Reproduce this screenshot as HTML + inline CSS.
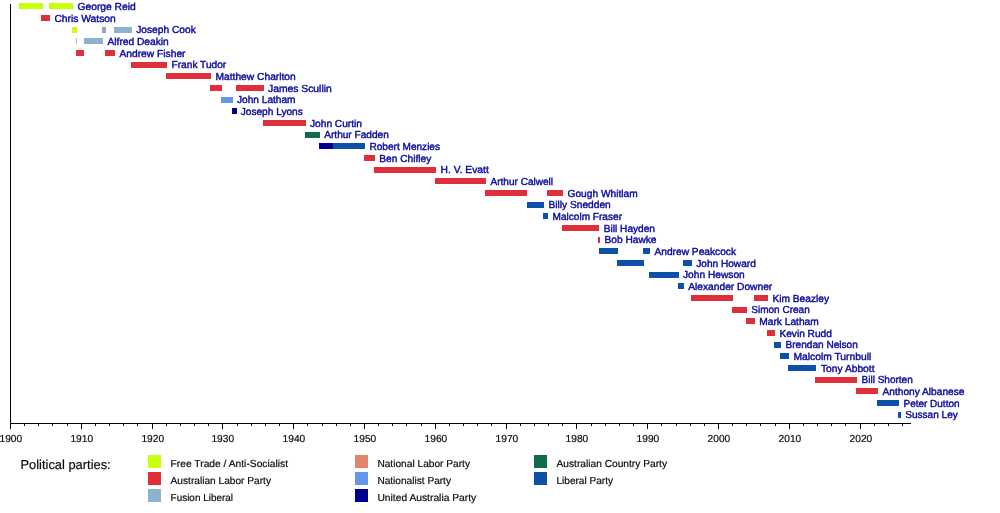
<!DOCTYPE html>
<html><head><meta charset="utf-8"><title>Leaders of the Opposition timeline</title>
<style>
html,body{margin:0;padding:0;background:#fff;}
body{width:1000px;height:513px;overflow:hidden;}
svg{display:block;text-rendering:geometricPrecision;font-family:"Liberation Sans",sans-serif;}
.nm{fill:#0c0c9c;font-size:10.2px;stroke:#0c0c9c;stroke-width:0.42px;}
.ax{fill:#0c0c0c;font-size:10.2px;stroke:#0c0c0c;stroke-width:0.2px;}
.lg{fill:#0c0c0c;font-size:10.2px;stroke:#0c0c0c;stroke-width:0.2px;}
.lt{fill:#0c0c0c;font-size:13px;stroke:#0c0c0c;stroke-width:0.2px;}
</style></head><body>
<svg width="1000" height="513" viewBox="0 0 1000 513">
<rect width="1000" height="513" fill="#ffffff"/>

<g shape-rendering="crispEdges">
<rect x="19" y="3" width="24" height="6" fill="#c8ff0a"/>
<rect x="49" y="3" width="23.75" height="6" fill="#c8ff0a"/>
<rect x="41" y="15" width="9" height="6" fill="#de2f3a"/>
<rect x="72" y="27" width="5" height="6" fill="#c8ff0a"/>
<rect x="102" y="27" width="4" height="6" fill="#93a8bd"/>
<rect x="114" y="27" width="17.75" height="6" fill="#8cb2cc"/>
<rect x="76" y="38" width="1" height="6" fill="#b4bfcc"/>
<rect x="84" y="38" width="19" height="6" fill="#8cb2cc"/>
<rect x="76" y="50" width="8" height="6" fill="#de2f3a"/>
<rect x="105" y="50" width="10" height="6" fill="#de2f3a"/>
<rect x="130.75" y="62" width="36.25" height="6" fill="#de2f3a"/>
<rect x="166" y="73" width="44.75" height="6" fill="#de2f3a"/>
<rect x="210" y="85" width="12" height="6" fill="#de2f3a"/>
<rect x="236" y="85" width="27.75" height="6" fill="#de2f3a"/>
<rect x="221" y="97" width="11.75" height="6" fill="#6695ec"/>
<rect x="232" y="108" width="4.75" height="6" fill="#00008c"/>
<rect x="263" y="120" width="42.75" height="6" fill="#de2f3a"/>
<rect x="305" y="132" width="14.75" height="6" fill="#0e6b50"/>
<rect x="319" y="143" width="13.75" height="6" fill="#00008c"/>
<rect x="332.75" y="143" width="32.0" height="6" fill="#0d50a8"/>
<rect x="364" y="155" width="10.75" height="6" fill="#de2f3a"/>
<rect x="374" y="167" width="61.75" height="6" fill="#de2f3a"/>
<rect x="435" y="178" width="51" height="6" fill="#de2f3a"/>
<rect x="485" y="190" width="42" height="6" fill="#de2f3a"/>
<rect x="547" y="190" width="16" height="6" fill="#de2f3a"/>
<rect x="527" y="202" width="16.75" height="6" fill="#0d50a8"/>
<rect x="543" y="213" width="5" height="6" fill="#0d50a8"/>
<rect x="562" y="225" width="37" height="6" fill="#de2f3a"/>
<rect x="598" y="237" width="2" height="6" fill="#de2f3a"/>
<rect x="599" y="248" width="19" height="6" fill="#0d50a8"/>
<rect x="643" y="248" width="7" height="6" fill="#0d50a8"/>
<rect x="617" y="260" width="27" height="6" fill="#0d50a8"/>
<rect x="683" y="260" width="9" height="6" fill="#0d50a8"/>
<rect x="649" y="272" width="30" height="6" fill="#0d50a8"/>
<rect x="678" y="283" width="6" height="6" fill="#0d50a8"/>
<rect x="691" y="295" width="42" height="6" fill="#de2f3a"/>
<rect x="754" y="295" width="14" height="6" fill="#de2f3a"/>
<rect x="732" y="307" width="15" height="6" fill="#de2f3a"/>
<rect x="746" y="318" width="9" height="6" fill="#de2f3a"/>
<rect x="767" y="330" width="8" height="6" fill="#de2f3a"/>
<rect x="774" y="342" width="7" height="6" fill="#0d50a8"/>
<rect x="780" y="353" width="9" height="6" fill="#0d50a8"/>
<rect x="788" y="365" width="28" height="6" fill="#0d50a8"/>
<rect x="815" y="377" width="42" height="6" fill="#de2f3a"/>
<rect x="856" y="388" width="22" height="6" fill="#de2f3a"/>
<rect x="877" y="400" width="22" height="6" fill="#0d50a8"/>
<rect x="898" y="412" width="3" height="6" fill="#0d50a8"/>
</g>
<g stroke="#000" stroke-width="1" shape-rendering="crispEdges">
<line x1="10.5" y1="4" x2="10.5" y2="423.5"/>
<line x1="10" y1="423.5" x2="911" y2="423.5"/>
<line x1="10.5" y1="423.5" x2="10.5" y2="428.5"/>
<line x1="24.5" y1="423.5" x2="24.5" y2="426"/>
<line x1="38.5" y1="423.5" x2="38.5" y2="426"/>
<line x1="52.5" y1="423.5" x2="52.5" y2="426"/>
<line x1="67.5" y1="423.5" x2="67.5" y2="426"/>
<line x1="81.5" y1="423.5" x2="81.5" y2="428.5"/>
<line x1="95.5" y1="423.5" x2="95.5" y2="426"/>
<line x1="109.5" y1="423.5" x2="109.5" y2="426"/>
<line x1="123.5" y1="423.5" x2="123.5" y2="426"/>
<line x1="137.5" y1="423.5" x2="137.5" y2="426"/>
<line x1="152.5" y1="423.5" x2="152.5" y2="428.5"/>
<line x1="166.5" y1="423.5" x2="166.5" y2="426"/>
<line x1="180.5" y1="423.5" x2="180.5" y2="426"/>
<line x1="194.5" y1="423.5" x2="194.5" y2="426"/>
<line x1="208.5" y1="423.5" x2="208.5" y2="426"/>
<line x1="222.5" y1="423.5" x2="222.5" y2="428.5"/>
<line x1="237.5" y1="423.5" x2="237.5" y2="426"/>
<line x1="251.5" y1="423.5" x2="251.5" y2="426"/>
<line x1="265.5" y1="423.5" x2="265.5" y2="426"/>
<line x1="279.5" y1="423.5" x2="279.5" y2="426"/>
<line x1="293.5" y1="423.5" x2="293.5" y2="428.5"/>
<line x1="307.5" y1="423.5" x2="307.5" y2="426"/>
<line x1="322.5" y1="423.5" x2="322.5" y2="426"/>
<line x1="336.5" y1="423.5" x2="336.5" y2="426"/>
<line x1="350.5" y1="423.5" x2="350.5" y2="426"/>
<line x1="364.5" y1="423.5" x2="364.5" y2="428.5"/>
<line x1="378.5" y1="423.5" x2="378.5" y2="426"/>
<line x1="392.5" y1="423.5" x2="392.5" y2="426"/>
<line x1="406.5" y1="423.5" x2="406.5" y2="426"/>
<line x1="421.5" y1="423.5" x2="421.5" y2="426"/>
<line x1="435.5" y1="423.5" x2="435.5" y2="428.5"/>
<line x1="449.5" y1="423.5" x2="449.5" y2="426"/>
<line x1="463.5" y1="423.5" x2="463.5" y2="426"/>
<line x1="477.5" y1="423.5" x2="477.5" y2="426"/>
<line x1="491.5" y1="423.5" x2="491.5" y2="426"/>
<line x1="506.5" y1="423.5" x2="506.5" y2="428.5"/>
<line x1="520.5" y1="423.5" x2="520.5" y2="426"/>
<line x1="534.5" y1="423.5" x2="534.5" y2="426"/>
<line x1="548.5" y1="423.5" x2="548.5" y2="426"/>
<line x1="562.5" y1="423.5" x2="562.5" y2="426"/>
<line x1="576.5" y1="423.5" x2="576.5" y2="428.5"/>
<line x1="591.5" y1="423.5" x2="591.5" y2="426"/>
<line x1="605.5" y1="423.5" x2="605.5" y2="426"/>
<line x1="619.5" y1="423.5" x2="619.5" y2="426"/>
<line x1="633.5" y1="423.5" x2="633.5" y2="426"/>
<line x1="647.5" y1="423.5" x2="647.5" y2="428.5"/>
<line x1="661.5" y1="423.5" x2="661.5" y2="426"/>
<line x1="676.5" y1="423.5" x2="676.5" y2="426"/>
<line x1="690.5" y1="423.5" x2="690.5" y2="426"/>
<line x1="704.5" y1="423.5" x2="704.5" y2="426"/>
<line x1="718.5" y1="423.5" x2="718.5" y2="428.5"/>
<line x1="732.5" y1="423.5" x2="732.5" y2="426"/>
<line x1="746.5" y1="423.5" x2="746.5" y2="426"/>
<line x1="760.5" y1="423.5" x2="760.5" y2="426"/>
<line x1="775.5" y1="423.5" x2="775.5" y2="426"/>
<line x1="789.5" y1="423.5" x2="789.5" y2="428.5"/>
<line x1="803.5" y1="423.5" x2="803.5" y2="426"/>
<line x1="817.5" y1="423.5" x2="817.5" y2="426"/>
<line x1="831.5" y1="423.5" x2="831.5" y2="426"/>
<line x1="845.5" y1="423.5" x2="845.5" y2="426"/>
<line x1="860.5" y1="423.5" x2="860.5" y2="428.5"/>
<line x1="874.5" y1="423.5" x2="874.5" y2="426"/>
<line x1="888.5" y1="423.5" x2="888.5" y2="426"/>
<line x1="902.5" y1="423.5" x2="902.5" y2="426"/>
</g>
<text class="ax" x="10.8" y="441.8" text-anchor="middle">1900</text>
<text class="ax" x="81.8" y="441.8" text-anchor="middle">1910</text>
<text class="ax" x="152.8" y="441.8" text-anchor="middle">1920</text>
<text class="ax" x="222.8" y="441.8" text-anchor="middle">1930</text>
<text class="ax" x="293.9" y="441.8" text-anchor="middle">1940</text>
<text class="ax" x="364.9" y="441.8" text-anchor="middle">1950</text>
<text class="ax" x="435.9" y="441.8" text-anchor="middle">1960</text>
<text class="ax" x="506.9" y="441.8" text-anchor="middle">1970</text>
<text class="ax" x="576.9" y="441.8" text-anchor="middle">1980</text>
<text class="ax" x="647.9" y="441.8" text-anchor="middle">1990</text>
<text class="ax" x="718.9" y="441.8" text-anchor="middle">2000</text>
<text class="ax" x="789.9" y="441.8" text-anchor="middle">2010</text>
<text class="ax" x="860.9" y="441.8" text-anchor="middle">2020</text>
<text class="nm" x="77.5" y="9.85" textLength="58.25" lengthAdjust="spacingAndGlyphs">George Reid</text>
<text class="nm" x="54.4" y="21.52" textLength="61.35" lengthAdjust="spacingAndGlyphs">Chris Watson</text>
<text class="nm" x="136.25" y="33.18" textLength="59.5" lengthAdjust="spacingAndGlyphs">Joseph Cook</text>
<text class="nm" x="107.5" y="44.85" textLength="61.25" lengthAdjust="spacingAndGlyphs">Alfred Deakin</text>
<text class="nm" x="119.5" y="56.52" textLength="66.0" lengthAdjust="spacingAndGlyphs">Andrew Fisher</text>
<text class="nm" x="171.5" y="68.18" textLength="54.75" lengthAdjust="spacingAndGlyphs">Frank Tudor</text>
<text class="nm" x="215.5" y="79.85" textLength="80.25" lengthAdjust="spacingAndGlyphs">Matthew Charlton</text>
<text class="nm" x="268" y="91.52" textLength="63.75" lengthAdjust="spacingAndGlyphs">James Scullin</text>
<text class="nm" x="237" y="103.18" textLength="58.5" lengthAdjust="spacingAndGlyphs">John Latham</text>
<text class="nm" x="240.75" y="114.85" textLength="62.0" lengthAdjust="spacingAndGlyphs">Joseph Lyons</text>
<text class="nm" x="310" y="126.52" textLength="52" lengthAdjust="spacingAndGlyphs">John Curtin</text>
<text class="nm" x="324.25" y="138.18" textLength="64.5" lengthAdjust="spacingAndGlyphs">Arthur Fadden</text>
<text class="nm" x="369.5" y="149.85" textLength="70.5" lengthAdjust="spacingAndGlyphs">Robert Menzies</text>
<text class="nm" x="379.25" y="161.52" textLength="52.0" lengthAdjust="spacingAndGlyphs">Ben Chifley</text>
<text class="nm" x="440.5" y="173.18" textLength="48.25" lengthAdjust="spacingAndGlyphs">H. V. Evatt</text>
<text class="nm" x="490.5" y="184.85" textLength="62.5" lengthAdjust="spacingAndGlyphs">Arthur Calwell</text>
<text class="nm" x="567.5" y="196.52" textLength="70.25" lengthAdjust="spacingAndGlyphs">Gough Whitlam</text>
<text class="nm" x="548.5" y="208.18" textLength="62.25" lengthAdjust="spacingAndGlyphs">Billy Snedden</text>
<text class="nm" x="552.5" y="219.85" textLength="69.5" lengthAdjust="spacingAndGlyphs">Malcolm Fraser</text>
<text class="nm" x="603.75" y="231.52" textLength="51.25" lengthAdjust="spacingAndGlyphs">Bill Hayden</text>
<text class="nm" x="604.5" y="243.18" textLength="52.0" lengthAdjust="spacingAndGlyphs">Bob Hawke</text>
<text class="nm" x="654.5" y="254.85" textLength="81.5" lengthAdjust="spacingAndGlyphs">Andrew Peakcock</text>
<text class="nm" x="696.25" y="266.52" textLength="59.5" lengthAdjust="spacingAndGlyphs">John Howard</text>
<text class="nm" x="683" y="278.18" textLength="61.75" lengthAdjust="spacingAndGlyphs">John Hewson</text>
<text class="nm" x="688.25" y="289.85" textLength="84.0" lengthAdjust="spacingAndGlyphs">Alexander Downer</text>
<text class="nm" x="772.5" y="301.52" textLength="56.5" lengthAdjust="spacingAndGlyphs">Kim Beazley</text>
<text class="nm" x="751.25" y="313.18" textLength="58.5" lengthAdjust="spacingAndGlyphs">Simon Crean</text>
<text class="nm" x="759.25" y="324.85" textLength="59.5" lengthAdjust="spacingAndGlyphs">Mark Latham</text>
<text class="nm" x="779.5" y="336.52" textLength="52.25" lengthAdjust="spacingAndGlyphs">Kevin Rudd</text>
<text class="nm" x="785.5" y="348.18" textLength="72.25" lengthAdjust="spacingAndGlyphs">Brendan Nelson</text>
<text class="nm" x="793.5" y="359.85" textLength="77.75" lengthAdjust="spacingAndGlyphs">Malcolm Turnbull</text>
<text class="nm" x="821" y="371.52" textLength="53.5" lengthAdjust="spacingAndGlyphs">Tony Abbott</text>
<text class="nm" x="861.5" y="383.18" textLength="51.25" lengthAdjust="spacingAndGlyphs">Bill Shorten</text>
<text class="nm" x="882.5" y="394.85" textLength="82.0" lengthAdjust="spacingAndGlyphs">Anthony Albanese</text>
<text class="nm" x="903.5" y="406.52" textLength="56.0" lengthAdjust="spacingAndGlyphs">Peter Dutton</text>
<text class="nm" x="905.25" y="418.18" textLength="52.5" lengthAdjust="spacingAndGlyphs">Sussan Ley</text>
<text class="lt" x="20.5" y="468.7" textLength="90.2" lengthAdjust="spacingAndGlyphs">Political parties:</text>
<rect x="148" y="455" width="13" height="13" fill="#c8ff0a" shape-rendering="crispEdges"/>
<text class="lg" x="170.6" y="467" textLength="117.4" lengthAdjust="spacingAndGlyphs">Free Trade / Anti-Socialist</text>
<rect x="148" y="472" width="13" height="13" fill="#de2f3a" shape-rendering="crispEdges"/>
<text class="lg" x="170.6" y="484" textLength="100.4" lengthAdjust="spacingAndGlyphs">Australian Labor Party</text>
<rect x="148" y="489" width="13" height="13" fill="#8cb2cc" shape-rendering="crispEdges"/>
<text class="lg" x="170.6" y="501" textLength="62.4" lengthAdjust="spacingAndGlyphs">Fusion Liberal</text>
<rect x="355" y="455" width="13" height="13" fill="#e08570" shape-rendering="crispEdges"/>
<text class="lg" x="377.4" y="467" textLength="92.6" lengthAdjust="spacingAndGlyphs">National Labor Party</text>
<rect x="355" y="472" width="13" height="13" fill="#6695ec" shape-rendering="crispEdges"/>
<text class="lg" x="377.4" y="484" textLength="73.6" lengthAdjust="spacingAndGlyphs">Nationalist Party</text>
<rect x="355" y="489" width="13" height="13" fill="#00008c" shape-rendering="crispEdges"/>
<text class="lg" x="377.4" y="501" textLength="98.85" lengthAdjust="spacingAndGlyphs">United Australia Party</text>
<rect x="534" y="455" width="13" height="13" fill="#0e6b50" shape-rendering="crispEdges"/>
<text class="lg" x="556.5" y="467" textLength="110.5" lengthAdjust="spacingAndGlyphs">Australian Country Party</text>
<rect x="534" y="472" width="13" height="13" fill="#0d50a8" shape-rendering="crispEdges"/>
<text class="lg" x="556.5" y="484" textLength="56.5" lengthAdjust="spacingAndGlyphs">Liberal Party</text>
</svg></body></html>
